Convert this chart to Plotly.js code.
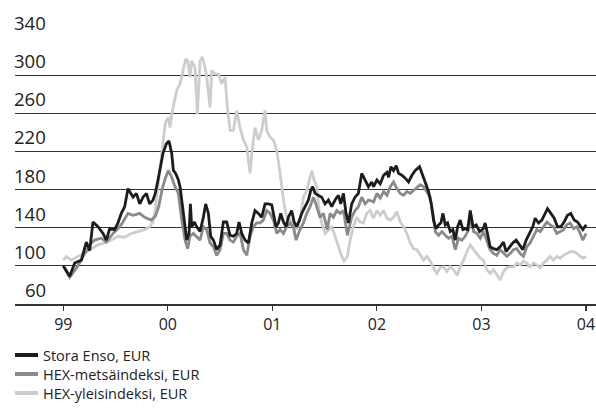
<!DOCTYPE html>
<html>
<head>
<meta charset="utf-8">
<script src="https://cdn.plot.ly/plotly-3.0.1.min.js"></script>
<style>
html,body{margin:0;padding:0;background:#fff;}
#chart{width:596px;height:410px;}
</style>
</head>
<body>
<div id="chart"></div>
<script>
// ---- Data (decimal years, index values) ----
const seriesNames = ["Stora Enso, EUR", "HEX-metsäindeksi, EUR", "HEX-yleisindeksi, EUR"];

const storaT = [
1999.000,1999.061,1999.109,1999.173,1999.220,1999.252,1999.284,1999.332,1999.380,1999.412,1999.444,1999.491,1999.523,1999.555,1999.587,1999.619,1999.667,1999.699,1999.731,1999.763,1999.795,1999.826,1999.858,1999.880,1999.906,1999.928,1999.954,1999.986,
2000.011,2000.037,2000.053,2000.075,2000.101,2000.117,2000.139,2000.165,2000.181,2000.203,2000.216,2000.228,2000.254,2000.276,2000.308,2000.340,2000.362,2000.388,2000.410,2000.436,2000.468,2000.500,2000.531,2000.563,2000.595,2000.627,2000.659,2000.681,2000.707,2000.739,2000.771,2000.803,2000.834,2000.866,2000.898,2000.930,2000.962,2000.994,
2001.035,2001.058,2001.080,2001.106,2001.131,2001.153,2001.185,2001.208,2001.233,2001.259,2001.281,2001.313,2001.345,2001.367,2001.386,2001.409,2001.472,2001.504,2001.536,2001.568,2001.600,2001.632,2001.654,2001.680,2001.705,2001.728,2001.759,2001.791,2001.823,2001.855,2001.887,2001.919,2001.951,
2001.968,2002.000,2002.032,2002.064,2002.096,2002.112,2002.134,2002.159,2002.185,2002.207,2002.239,2002.271,2002.303,2002.335,2002.367,2002.408,2002.431,2002.463,2002.494,2002.520,2002.542,2002.565,2002.590,2002.612,2002.632,2002.654,2002.676,2002.702,2002.727,2002.750,2002.772,2002.797,2002.823,2002.845,2002.868,2002.893,2002.919,2002.951,2002.982,
2003.019,2003.035,2003.058,2003.083,2003.115,2003.147,2003.179,2003.211,2003.236,2003.268,2003.300,2003.332,2003.364,2003.396,2003.428,2003.460,2003.491,2003.514,2003.546,2003.578,2003.610,2003.632,2003.664,2003.696,2003.728,2003.759,2003.791,2003.823,2003.855,2003.887,2003.919,2003.951,2003.970,2004.002];
const storaV = [
100,89,103,106,125,116,146,141,134,127,139,138,145,155,162,181,172,176,165,172,176,165,169,176,190,204,218,228,
231,218,200,197,190,183,162,138,127,134,165,141,146,141,136,151,165,155,131,127,117,122,146,146,132,131,134,146,134,127,124,145,158,155,151,165,165,164,
141,145,155,146,141,151,158,146,141,148,155,162,169,179,183,176,172,165,169,162,169,174,165,176,155,145,165,172,176,197,190,183,188,
183,190,186,195,198,193,204,200,205,197,195,192,188,195,200,204,197,186,178,165,148,139,143,145,155,143,145,136,138,127,141,148,138,139,138,158,141,143,136,
139,145,134,120,118,117,120,125,115,120,124,127,122,117,127,134,141,150,145,148,155,160,155,150,141,141,146,153,155,148,146,141,138,143];

const metsaT = [
1999.000,1999.061,1999.141,1999.205,1999.268,1999.300,1999.364,1999.412,1999.476,1999.539,1999.571,1999.619,1999.667,1999.731,1999.778,1999.842,1999.881,1999.913,1999.945,1999.976,
2000.005,2000.037,2000.069,2000.101,2000.133,2000.165,2000.190,2000.212,2000.244,2000.276,2000.308,2000.340,2000.372,2000.404,2000.436,2000.468,2000.500,2000.531,2000.563,2000.595,2000.627,2000.659,2000.691,2000.723,2000.755,2000.787,2000.818,2000.850,2000.882,2000.914,2000.946,2000.978,
2001.010,2001.042,2001.074,2001.106,2001.137,2001.169,2001.201,2001.227,2001.265,2001.297,2001.329,2001.361,2001.393,2001.425,2001.456,2001.488,2001.526,2001.552,2001.584,2001.616,2001.648,2001.680,2001.718,2001.759,2001.791,2001.823,2001.855,2001.887,2001.919,2001.951,
2001.968,2002.000,2002.032,2002.064,2002.096,2002.128,2002.159,2002.191,2002.223,2002.255,2002.287,2002.319,2002.351,2002.383,2002.415,2002.447,2002.478,2002.510,2002.536,2002.558,2002.590,2002.622,2002.654,2002.686,2002.718,2002.750,2002.781,2002.813,2002.845,2002.877,2002.900,2002.925,2002.957,2002.989,
2003.019,2003.051,2003.083,2003.115,2003.147,2003.179,2003.211,2003.243,2003.275,2003.307,2003.338,2003.370,2003.402,2003.434,2003.466,2003.498,2003.530,2003.562,2003.594,2003.626,2003.657,2003.689,2003.721,2003.753,2003.785,2003.817,2003.849,2003.881,2003.913,2003.944,2003.970,2004.002];
const metsaV = [
100,88,100,113,124,127,129,125,134,141,146,155,153,155,151,148,152,162,180,192,
200,193,183,176,148,127,118,131,134,131,127,141,138,124,120,111,117,134,134,127,125,131,134,117,111,131,141,145,145,148,158,155,
148,134,138,134,141,145,141,127,138,145,155,162,172,162,151,155,138,155,151,158,155,158,132,151,158,162,172,165,169,168,
167,176,171,178,174,183,188,181,176,174,178,176,179,183,185,183,178,172,155,136,132,136,132,129,131,117,129,127,131,138,153,136,134,129,
136,127,117,113,111,117,113,110,113,117,118,113,110,120,124,131,138,136,141,146,143,141,134,136,138,143,145,139,141,134,127,134];

const yleisT = [
1999.000,1999.029,1999.077,1999.141,1999.205,1999.268,1999.332,1999.396,1999.460,1999.523,1999.587,1999.651,1999.715,1999.778,1999.826,1999.858,1999.881,1999.906,1999.932,1999.954,1999.976,
2000.005,2000.021,2000.037,2000.085,2000.117,2000.149,2000.171,2000.190,2000.212,2000.228,2000.260,2000.283,2000.308,2000.330,2000.356,2000.372,2000.404,2000.420,2000.452,2000.484,2000.515,2000.547,2000.570,2000.595,2000.627,2000.659,2000.691,2000.723,2000.755,2000.787,2000.803,2000.834,2000.866,2000.898,2000.930,2000.946,2000.978,
2001.010,2001.042,2001.074,2001.106,2001.137,2001.169,2001.201,2001.233,2001.265,2001.297,2001.329,2001.354,2001.377,2001.399,2001.425,2001.450,2001.472,2001.504,2001.536,2001.568,2001.600,2001.632,2001.664,2001.686,2001.718,2001.744,2001.775,2001.807,2001.839,2001.871,2001.903,2001.935,
2001.968,2002.000,2002.032,2002.064,2002.096,2002.128,2002.159,2002.191,2002.223,2002.255,2002.287,2002.319,2002.351,2002.383,2002.415,2002.447,2002.478,2002.510,2002.542,2002.574,2002.606,2002.638,2002.670,2002.702,2002.734,2002.766,2002.797,2002.829,2002.861,2002.893,2002.925,2002.957,2002.989,
2003.019,2003.051,2003.083,2003.115,2003.147,2003.179,2003.211,2003.243,2003.275,2003.307,2003.338,2003.370,2003.402,2003.434,2003.466,2003.498,2003.530,2003.562,2003.594,2003.626,2003.657,2003.689,2003.721,2003.753,2003.785,2003.817,2003.849,2003.881,2003.913,2003.944,2003.976,2004.002];
const yleisV = [
106,110,106,110,113,118,122,124,127,131,130,134,136,138,141,146,160,185,210,232,250,
256,245,259,284,291,305,317,315,298,315,308,259,315,319,308,298,266,305,301,301,291,298,266,242,242,263,245,232,225,197,218,245,232,242,263,242,235,
232,221,197,169,151,148,146,138,148,172,179,190,200,190,183,155,145,134,138,141,131,120,110,105,110,127,141,151,146,145,155,158,
150,158,153,158,150,148,151,157,146,141,134,124,118,117,111,106,110,105,98,92,98,99,94,99,96,90,99,106,115,122,117,113,108,
106,96,92,96,91,85,94,98,99,99,103,101,105,103,99,103,101,98,103,106,110,106,110,108,111,113,115,115,113,110,108,110];

const xTickVals = [1999, 2000, 2001, 2002, 2003, 2004];
const xTickText = ["99", "00", "01", "02", "03", "04"];
const yTickVals = [60, 100, 140, 180, 220, 260, 300, 340];

// ---- Styling ----
const colors = ["#1c1c1c", "#8a8a8a", "#cdcdcd"];
const FONT = "'Open Sans', 'DejaVu Sans', sans-serif";
const W = 596, H = 410;
const M = {l: 15, r: 0, t: 37, b: 106};
const plotW = W - M.l - M.r, plotH = H - M.t - M.b;
const px2paperX = px => (px - M.l) / plotW;
const px2paperY = py => (H - M.b - py) / plotH;

const dataSets = [[storaT, storaV], [metsaT, metsaV], [yleisT, yleisV]];
// draw lightest first so the darkest line is on top
const traces = [2, 1, 0].map(i => ({
  type: "scatter", mode: "lines",
  x: dataSets[i][0], y: dataSets[i][1],
  name: seriesNames[i],
  line: {color: colors[i], width: 2.8},
  hoverinfo: "skip", showlegend: false
}));

const annotations = yTickVals.map(v => ({
  xref: "paper", yref: "y", x: px2paperX(48), y: v,
  xanchor: "right", yanchor: "bottom", yshift: 0,
  text: String(v), showarrow: false,
  font: {family: FONT, size: 18.5, color: "#222"}
}));

const legendRows = [355, 374, 393];
const shapes = [];
seriesNames.forEach((nm, i) => {
  shapes.push({
    type: "line", xref: "paper", yref: "paper",
    x0: px2paperX(15), x1: px2paperX(38),
    y0: px2paperY(legendRows[i]), y1: px2paperY(legendRows[i]),
    line: {color: colors[i], width: 4}
  });
  annotations.push({
    xref: "paper", yref: "paper", x: px2paperX(41), y: px2paperY(legendRows[i]),
    xanchor: "left", yanchor: "middle", text: nm, showarrow: false,
    font: {family: FONT, size: 14.5, color: "#222"}
  });
});

const layout = {
  width: W, height: H,
  margin: M,
  paper_bgcolor: "#fff", plot_bgcolor: "#fff",
  showlegend: false,
  xaxis: {
    range: [1998.538, 2004.096], tickvals: xTickVals, ticktext: xTickText,
    showgrid: false, zeroline: false,
    showline: true, linecolor: "#333", linewidth: 1.5,
    ticks: "outside", ticklen: 5, tickcolor: "#333", tickwidth: 1.2,
    tickfont: {family: FONT, size: 16, color: "#222"}
  },
  yaxis: {
    range: [60, 340], tickvals: yTickVals, showticklabels: false,
    showgrid: true, gridcolor: "#333", gridwidth: 1.2,
    zeroline: false, showline: false, ticks: ""
  },
  annotations: annotations,
  shapes: shapes
};

Plotly.newPlot("chart", traces, layout, {staticPlot: true, displayModeBar: false});
</script>
</body>
</html>
